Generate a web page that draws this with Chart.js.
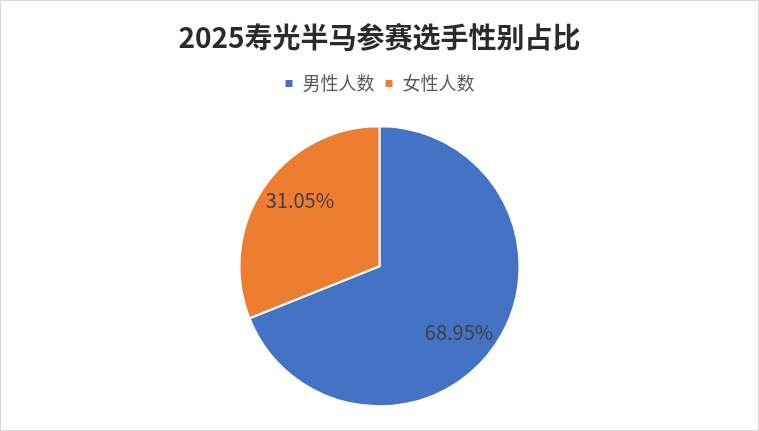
<!DOCTYPE html>
<html lang="zh">
<head>
  <meta charset="UTF-8">
  <title>2025寿光半马参赛选手性别占比</title>
  <script src="https://cdn.jsdelivr.net/npm/chart.js"></script>
  <style>
    body {
      margin: 0;
      background: #ffffff;
    }

    #chart-box {
      width: 759px;
      height: 431px;
      box-sizing: border-box;
      border: 1px solid #d9d9d9;
      background: white;
    }

    canvas {
      display: block;
    }
  </style>
</head>
<body>

<div id="chart-box">
  <canvas id="genderChart" width="757" height="429"></canvas>
</div>

<script>
  // Gender split
  const genderLabels = ["男性人数", "女性人数"];
  const genderData = [68.95, 31.05];
  const genderColors = ['#4472C4', '#ED7D31'];

  const fontFamily = '"Noto Sans CJK SC", "Noto Sans", sans-serif';

  // percent labels inside each slice
  const sliceLabels = {
    id: 'sliceLabels',
    afterDatasetsDraw(chart) {
      const ctx = chart.ctx;
      const meta = chart.getDatasetMeta(0);
      const total = genderData.reduce((a, b) => a + b, 0);
      ctx.save();
      ctx.font = '20px ' + fontFamily;
      ctx.fillStyle = '#404040';
      ctx.textAlign = 'center';
      ctx.textBaseline = 'middle';
      meta.data.forEach((arc, i) => {
        const mid = (arc.startAngle + arc.endAngle) / 2 + 0.1;
        const r = arc.outerRadius * 0.74;
        const x = arc.x + Math.cos(mid) * r;
        const y = arc.y + Math.sin(mid) * r;
        const percent = (genderData[i] / total * 100).toFixed(2);
        ctx.fillText(percent + '%', x, y);
      });
      ctx.restore();
    }
  };

  const ctx = document.getElementById("genderChart").getContext("2d");
  new Chart(ctx, {
    type: 'pie',
    data: {
      labels: genderLabels,
      datasets: [{
        data: genderData,
        backgroundColor: genderColors,
        borderColor: '#ffffff',
        borderWidth: 2,
        radius: 140
      }]
    },
    options: {
      responsive: false,
      animation: false,
      layout: { padding: 0 },
      plugins: {
        title: {
          display: true,
          text: '2025寿光半马参赛选手性别占比',
          color: '#2b2b2b',
          font: { family: fontFamily, size: 28, weight: 'bold' },
          padding: { top: 20, bottom: 10 }
        },
        legend: {
          position: 'top',
          labels: {
            boxWidth: 9,
            boxHeight: 9,
            padding: 10,
            color: '#595959',
            font: { family: fontFamily, size: 18 }
          }
        },
        tooltip: { enabled: false }
      }
    },
    plugins: [sliceLabels]
  });
</script>
</body>
</html>
